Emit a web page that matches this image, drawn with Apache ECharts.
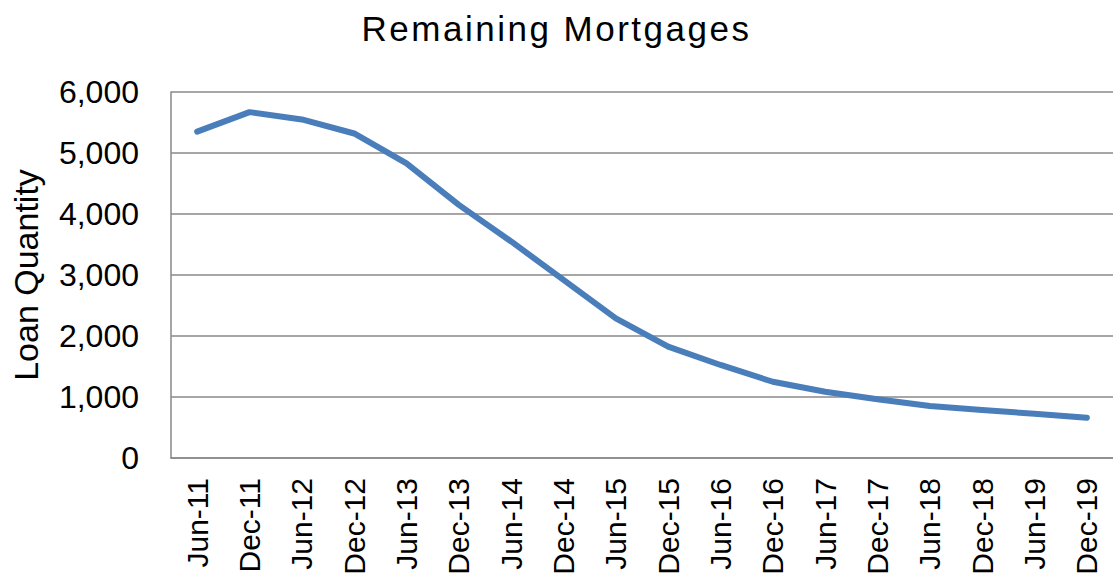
<!DOCTYPE html>
<html>
<head>
<meta charset="utf-8">
<script src="https://cdn.jsdelivr.net/npm/echarts@6/dist/echarts.min.js"></script>
<style>
  html, body { margin: 0; padding: 0; background: #fff; }
  #chart { width: 1113px; height: 581px; }
</style>
</head>
<body>
<div id="chart"></div>
<script>
// 半年度剩余贷款数量
const categories = ['Jun-11', 'Dec-11', 'Jun-12', 'Dec-12', 'Jun-13', 'Dec-13', 'Jun-14', 'Dec-14', 'Jun-15',
    'Dec-15', 'Jun-16', 'Dec-16', 'Jun-17', 'Dec-17', 'Jun-18', 'Dec-18', 'Jun-19', 'Dec-19'];
const remaining = [5350, 5670, 5550, 5320, 4830, 4150, 3550, 2920, 2290,
    1825, 1525, 1250, 1087, 962, 852, 787, 726, 661];
const titleText = 'Remaining Mortgages';
const yName = 'Loan Quantity';

const font = '"Liberation Sans", Arial, sans-serif';
const gridColor = '#898989';

const chart = echarts.init(document.getElementById('chart'), null, { renderer: 'svg' });

chart.setOption({
    animation: false,
    title: {
        text: titleText,
        left: 'center',
        top: 6,
        textStyle: { fontFamily: font, fontSize: 35, fontWeight: 'normal', color: '#000' }
    },
    grid: { left: 171, top: 92, bottom: 123, width: 946 },
    xAxis: {
        type: 'category',
        data: categories,
        boundaryGap: true,
        axisLine: { lineStyle: { color: gridColor, width: 1.5 } },
        axisTick: { show: false },
        axisLabel: {
            rotate: 90,
            interval: 0,
            margin: 20,
            fontFamily: font,
            fontSize: 30,
            color: '#000'
        }
    },
    yAxis: {
        type: 'value',
        min: 0,
        max: 6000,
        interval: 1000,
        name: yName,
        nameLocation: 'middle',
        nameGap: 128,
        nameTextStyle: { fontFamily: font, fontSize: 34, color: '#000' },
        axisLine: { show: true, lineStyle: { color: gridColor, width: 1.5 } },
        axisTick: { show: false },
        axisLabel: {
            margin: 32,
            fontFamily: font,
            fontSize: 32,
            color: '#000',
            formatter: v => v.toLocaleString('en-US')
        },
        splitLine: { lineStyle: { color: gridColor, width: 1.5 } }
    },
    series: [{
        type: 'line',
        data: remaining,
        showSymbol: false,
        lineStyle: { color: '#4a7ebb', width: 6, cap: 'round', join: 'round' }
    }]
});

// 标题字间距较宽
document.querySelectorAll('#chart svg text').forEach(t => {
    if (t.textContent === titleText) t.style.letterSpacing = '2.5px';
});
</script>
</body>
</html>
